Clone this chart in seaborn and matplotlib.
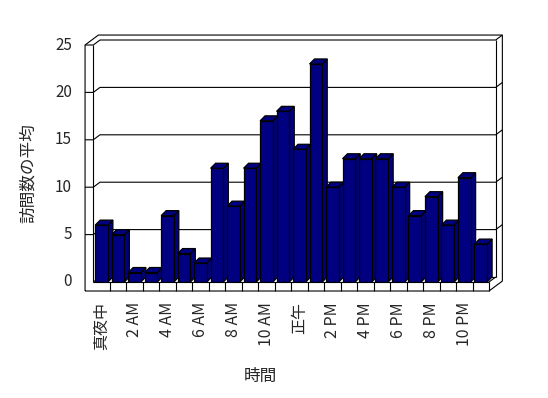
import numpy as np
import pandas as pd
import matplotlib
matplotlib.use("Agg")
import matplotlib.pyplot as plt
from matplotlib.patches import Polygon
import seaborn as sns

# 時間ごとの訪問数の平均
hours = list(range(24))
visits = [6, 5, 1, 1, 7, 3, 2, 12, 8, 12, 17, 18,
          14, 23, 10, 13, 13, 13, 10, 7, 9, 6, 11, 4]
hour_labels = ["真夜中", "2 AM", "4 AM", "6 AM", "8 AM", "10 AM",
               "正午", "2 PM", "4 PM", "6 PM", "8 PM", "10 PM"]
y_ticks = [0, 5, 10, 15, 20, 25]

sns.set_style("white")
plt.rcParams['font.family'] = ['Noto Sans CJK JP', 'DejaVu Sans']

W, H = 548, 398
fig = plt.figure(figsize=(W / 100, H / 100), dpi=100)
ax = fig.add_axes([93.3 / W, 1 - 282 / H, (489 - 93.3) / W, (282 - 45) / H])

df = pd.DataFrame({"hour": hours, "visits": visits})
sns.barplot(data=df, x="hour", y="visits", color="#000080", saturation=1,
            width=0.77, edgecolor="black", linewidth=0.9, ax=ax)

ax.set_xlim(-0.5, 23.5)
ax.set_ylim(0, 25)
ax.axis("off")

# 奥行き (データ単位)
bdx, bdy = 0.303, 0.527     # 棒の奥行き
wdx, wdy = 0.406, 0.527     # 奥の壁
odx, ody = 0.81, 1.05       # 外枠
xl, xr = -0.5, 23.5
xo = -1.0
yf = -0.95
ymax = 25
navy = "#000080"

def line(xs, ys, z=1):
    ax.plot(xs, ys, color="black", lw=0.8, clip_on=False, zorder=z,
            solid_capstyle="butt")

# 外枠
line([xo, xo, xo + odx, xr + odx, xr + odx, xr, xo],
     [yf, ymax, ymax + ody, ymax + ody, yf + ody, yf, yf])
# 左の壁と奥の壁
line([xl, xl], [0, ymax])
line([xo, xl, xl + wdx, xr + wdx, xr + odx], [ymax, ymax, ymax + wdy, ymax + wdy, ymax + ody])
line([xr + wdx, xr + wdx], [wdy, ymax + wdy])
line([xl, xl + wdx], [0, wdy])
line([xr, xr + wdx], [0, wdy])
line([xl + wdx, xr + wdx], [wdy, wdy])
# 床
line([xl, xr], [0, 0], z=5)
line([xr, xr], [yf, 0], z=5)
for k in range(1, 24):
    line([xl + k, xl + k], [yf, 0], z=5)

# 目盛り線
for v in y_ticks[1:-1]:
    line([xo, xl, xl + wdx, xr + wdx, xr + odx], [v, v, v + wdy, v + wdy, v + ody])

# 棒の上面と側面
for i, p in enumerate(ax.patches):
    x0 = p.get_x()
    x1 = x0 + p.get_width()
    h = p.get_height()
    p.set_zorder(2 + i * 0.01 + 0.005)
    top = Polygon([(x0, h), (x1, h), (x1 + bdx, h + bdy), (x0 + bdx, h + bdy)],
                  closed=True, facecolor=navy, edgecolor="black", lw=0.9,
                  zorder=2 + i * 0.01, clip_on=False)
    side = Polygon([(x1, 0), (x1, h), (x1 + bdx, h + bdy), (x1 + bdx, bdy)],
                   closed=True, facecolor=navy, edgecolor="black", lw=0.9,
                   zorder=2 + i * 0.01, clip_on=False)
    ax.add_patch(side)
    ax.add_patch(top)

# 目盛りラベル
for v in y_ticks:
    ax.text(xo - 13 / 16.49, v, str(v), ha="right", va="center", fontsize=11)
for j, lab in enumerate(hour_labels):
    ax.text(hours[2 * j], yf - 11 / 9.48, lab, rotation=90, ha="center",
            va="top", fontsize=11.5, rotation_mode="default")

fig.text(28 / W, 1 - 173 / H, "訪問数の平均", rotation=90, ha="center",
         va="center", fontsize=12)
fig.text(260 / W, 1 - 376.5 / H, "時間", ha="center", va="center", fontsize=12)

fig.savefig("out.png", dpi=100)
